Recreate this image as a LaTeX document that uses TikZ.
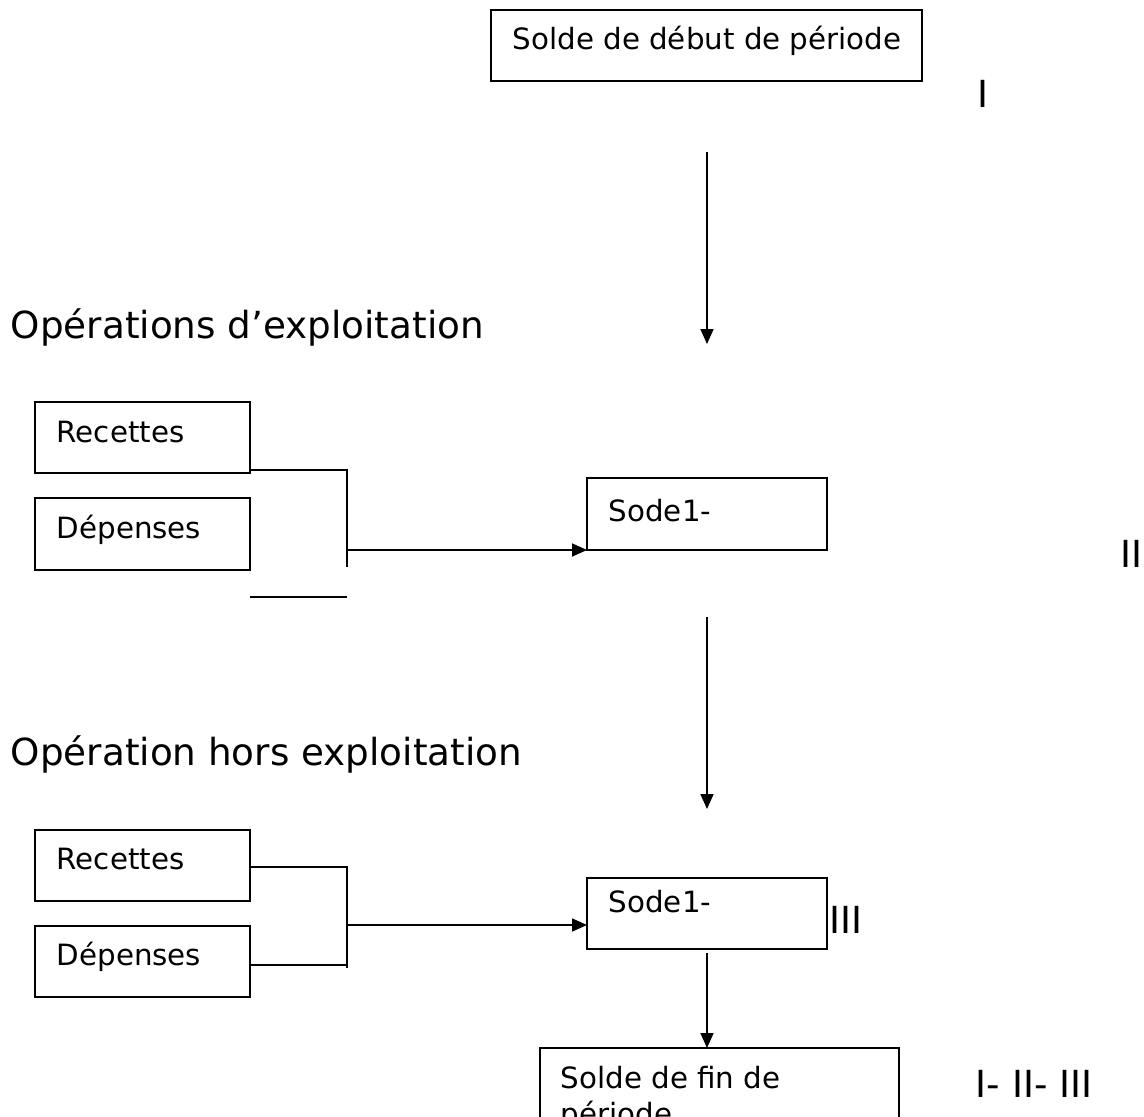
\documentclass[tikz,border=0pt]{standalone}
\usepackage{fontspec}
\setmainfont{DejaVu Sans}
\usetikzlibrary{arrows.meta}
\begin{document}
\begin{tikzpicture}[x=1pt,y=-1pt,line width=1.7pt,
  boxnode/.style={draw,rectangle,anchor=north west,inner sep=0pt,outer sep=0pt},
  boxtext/.style={anchor=base west,inner sep=0pt,font=\fontsize{29.3}{35}\selectfont},
  bigtext/.style={anchor=base west,inner sep=0pt,font=\fontsize{37.3}{44}\selectfont},
  arr/.style={-{Triangle[length=15pt,width=13pt]}},
  wire/.style={line cap=rect}]
\useasboundingbox (0,0) rectangle (1144,1117);
\clip (0,0) rectangle (1144,1117);
% top
\node[boxnode,minimum width=431pt,minimum height=71pt] (top) at (491,10) {};
\node[boxtext] (toptxt) at (512,49) {Solde de début de période};
\node[bigtext] (lI) at (977,107) {I};
\coordinate (a1s) at (707,152);
\coordinate (a1e) at (707,344);
\draw[arr] (a1s) -- (a1e);
% section 1
\node[bigtext] (h1) at (10,338) {Opérations d’exploitation};
\node[boxnode,minimum width=215pt,minimum height=71pt] (rec1) at (35,402) {};
\node[boxtext] (rec1t) at (56,442) {Recettes};
\node[boxnode,minimum width=215pt,minimum height=72pt] (dep1) at (35,498) {};
\node[boxtext] (dep1t) at (56,538) {Dépenses};
\node[boxnode,minimum width=240pt,minimum height=72pt] (s1) at (587,478) {};
\node[boxtext] (s1t) at (608,521) {Sode1-};
\node[bigtext] (lII) at (1120,567) {II};
\coordinate (j1a) at (347,470);
\coordinate (j1b) at (347,567);
\coordinate (j1m) at (347,550);
\coordinate (l1a) at (250,597);
\coordinate (l1b) at (347,597);
\draw (rec1.south east |- j1a) -- (j1a) -- (j1b);
\draw[arr] (j1m) -- (s1.south west);
\draw (l1a) -- (l1b);
\coordinate (a2s) at (707,617);
\coordinate (a2e) at (707,809);
\draw[arr] (a2s) -- (a2e);
% section 2
\node[bigtext] (h2) at (10,765) {Opération hors exploitation};
\node[boxnode,minimum width=215pt,minimum height=71pt] (rec2) at (35,830) {};
\node[boxtext] (rec2t) at (56,869) {Recettes};
\node[boxnode,minimum width=215pt,minimum height=71pt] (dep2) at (35,926) {};
\node[boxtext] (dep2t) at (56,965) {Dépenses};
\node[boxnode,minimum width=240pt,minimum height=71pt] (s2) at (587,878) {};
\node[boxtext] (s2t) at (608,912) {Sode1-};
\node[bigtext] (lIII) at (829,933) {III};
\coordinate (j2a) at (347,866);
\coordinate (j2b) at (347,968);
\coordinate (j2m) at (347,925);
\draw (rec2.east |- 0,867) -- (347,867);
\draw (dep2.east |- 0,965) -- (347,965);
\draw (j2a) -- (j2b);
\draw[arr] (j2m) -- (s2.west |- j2m);
% final
\node[boxnode,minimum width=359pt,minimum height=90pt] (fin) at (540,1048) {};
\coordinate (a3s) at (707,953);
\draw[arr] (a3s) -- (a3s |- fin.north);
\node[boxtext] (fint) at (560,1088) {Solde de fin de};
\node[boxtext] (fint2) at (560,1124) {période};
\node[bigtext] (lall) at (975,1097) {I- II- III};
\end{tikzpicture}
\end{document}
